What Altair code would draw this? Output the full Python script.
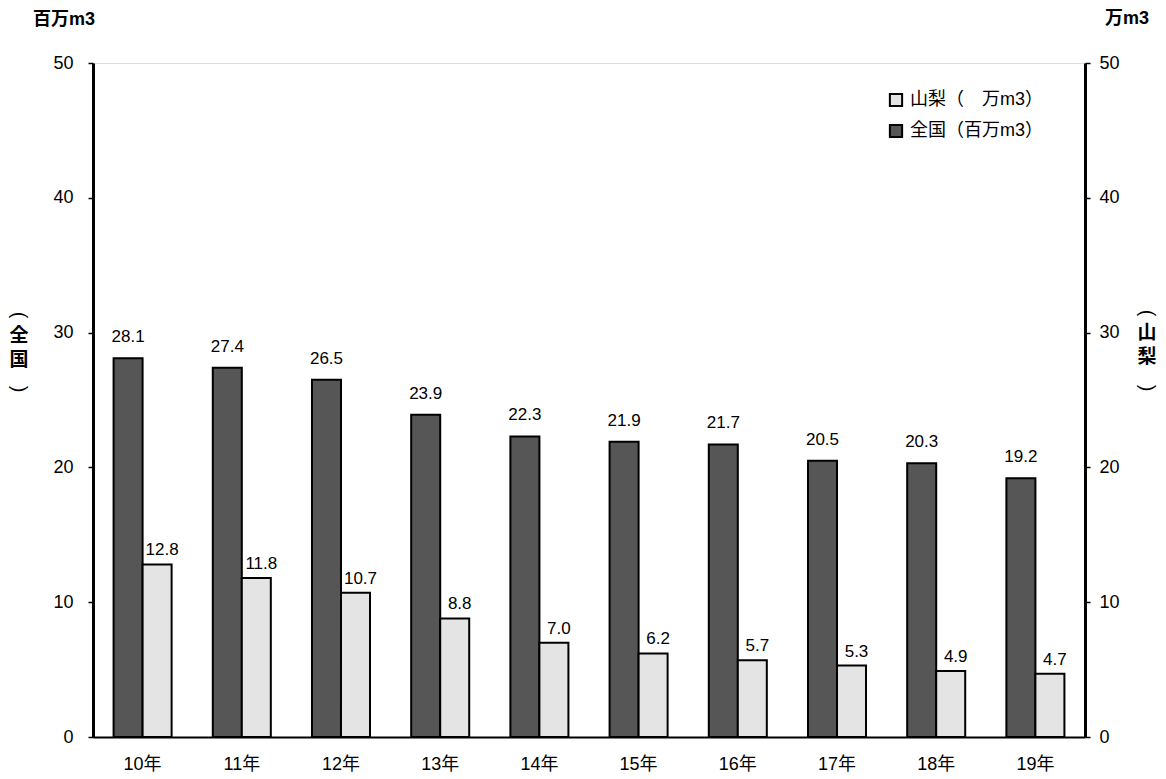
import altair as alt
import pandas as pd

years = ["10年", "11年", "12年", "13年", "14年", "15年", "16年", "17年", "18年", "19年"]
zenkoku = [28.1, 27.4, 26.5, 23.9, 22.3, 21.9, 21.7, 20.5, 20.3, 19.2]
yamanashi = [12.8, 11.8, 10.7, 8.8, 7.0, 6.2, 5.7, 5.3, 4.9, 4.7]
s_yama = "山梨（　万m3）"
s_zen = "全国（百万m3）"

rows = []
for y, z, m in zip(years, zenkoku, yamanashi):
    rows.append({"year": y, "series": s_zen, "value": z})
    rows.append({"year": y, "series": s_yama, "value": m})
df = pd.DataFrame(rows)

FONT = "Liberation Sans, Noto Sans CJK JP, sans-serif"
W, H = 992, 674

xenc = alt.X("year:N", sort=years, title=None,
             scale=alt.Scale(paddingInner=0.415, paddingOuter=0.2075),
             axis=alt.Axis(labelAngle=0, labelFontSize=18, labelFont=FONT, labelColor="black",
                           domainColor="black", domainWidth=2, ticks=False, labelPadding=18))
xoff = alt.XOffset("series:N", sort=[s_zen, s_yama])
yscale = alt.Scale(domain=[0, 50])

base = alt.Chart(df)

bars = base.mark_bar(stroke="black", strokeWidth=2).encode(
    x=xenc, xOffset=xoff,
    y=alt.Y("value:Q", scale=yscale, title=None,
            axis=alt.Axis(orient="left", values=[0, 10, 20, 30, 40, 50], grid=False,
                          labelFontSize=18, labelFont=FONT, labelColor="black",
                          domainColor="black", domainWidth=3, tickColor="black",
                          tickSize=5, tickWidth=1.5, labelPadding=15)),
    color=alt.Color("series:N",
                    scale=alt.Scale(domain=[s_yama, s_zen], range=["#e4e4e4", "#565656"]),
                    legend=alt.Legend(title=None, orient="none", legendX=794, legendY=28,
                                      symbolType="square", symbolSize=150, symbolStrokeColor="black",
                                      symbolStrokeWidth=2, labelFontSize=18, labelFont=FONT,
                                      labelColor="black", rowPadding=9, labelOffset=5)),
)

t_zen = base.transform_filter(alt.datum.series == s_zen).mark_text(
    fontSize=17, font=FONT, dy=-21, color="black").encode(
    x=xenc, xOffset=xoff,
    y=alt.Y("value:Q", scale=yscale, axis=None),
    text=alt.Text("value:Q", format=".1f"))

t_yama = base.transform_filter(alt.datum.series == s_yama).mark_text(
    fontSize=17, font=FONT, dy=-14, dx=5, color="black").encode(
    x=xenc, xOffset=xoff,
    y=alt.Y("value:Q", scale=yscale, title=None,
            axis=alt.Axis(orient="right", values=[0, 10, 20, 30, 40, 50], grid=False,
                          labelFontSize=18, labelFont=FONT, labelColor="black",
                          domainColor="black", domainWidth=3, tickColor="black",
                          tickSize=5, tickWidth=1.5, labelPadding=9)),
    text=alt.Text("value:Q", format=".1f"))

one = pd.DataFrame({"k": [0]})
def label(txt, x, y, size=16, weight="normal", angle=0):
    return alt.Chart(one).mark_text(fontSize=size, font=FONT, color="black",
                                    fontWeight=weight, angle=angle).encode(
        x=alt.value(x), y=alt.value(y), text=alt.value(txt))

layers = [
    label("百万m3", -29, -43, 18, "bold"),
    label("万m3", 1034, -44, 18, "bold"),
    # left vertical title（全国）
    label("(", -74, 252, 20, "normal", 90),
    label("全", -74, 273, 19, "bold"),
    label("国", -74, 297, 19, "bold"),
    label(")", -74, 326, 20, "normal", 90),
    # right vertical title（山梨）
    label("(", 1054, 250, 20, "normal", 90),
    label("山", 1054, 270, 19, "bold"),
    label("梨", 1054, 294, 19, "bold"),
    label(")", 1054, 325, 20, "normal", 90),
]

chart = alt.layer(bars, t_zen, t_yama, *layers).resolve_scale(
    y="independent"
).properties(
    width=W, height=H,
    autosize=alt.AutoSizeParams(type="none"),
    padding={"left": 85, "top": 55, "right": 73, "bottom": 42},
).configure_view(stroke=None).configure(background="white")

chart.save("out.html", embed_options={"renderer": "svg", "actions": False})
